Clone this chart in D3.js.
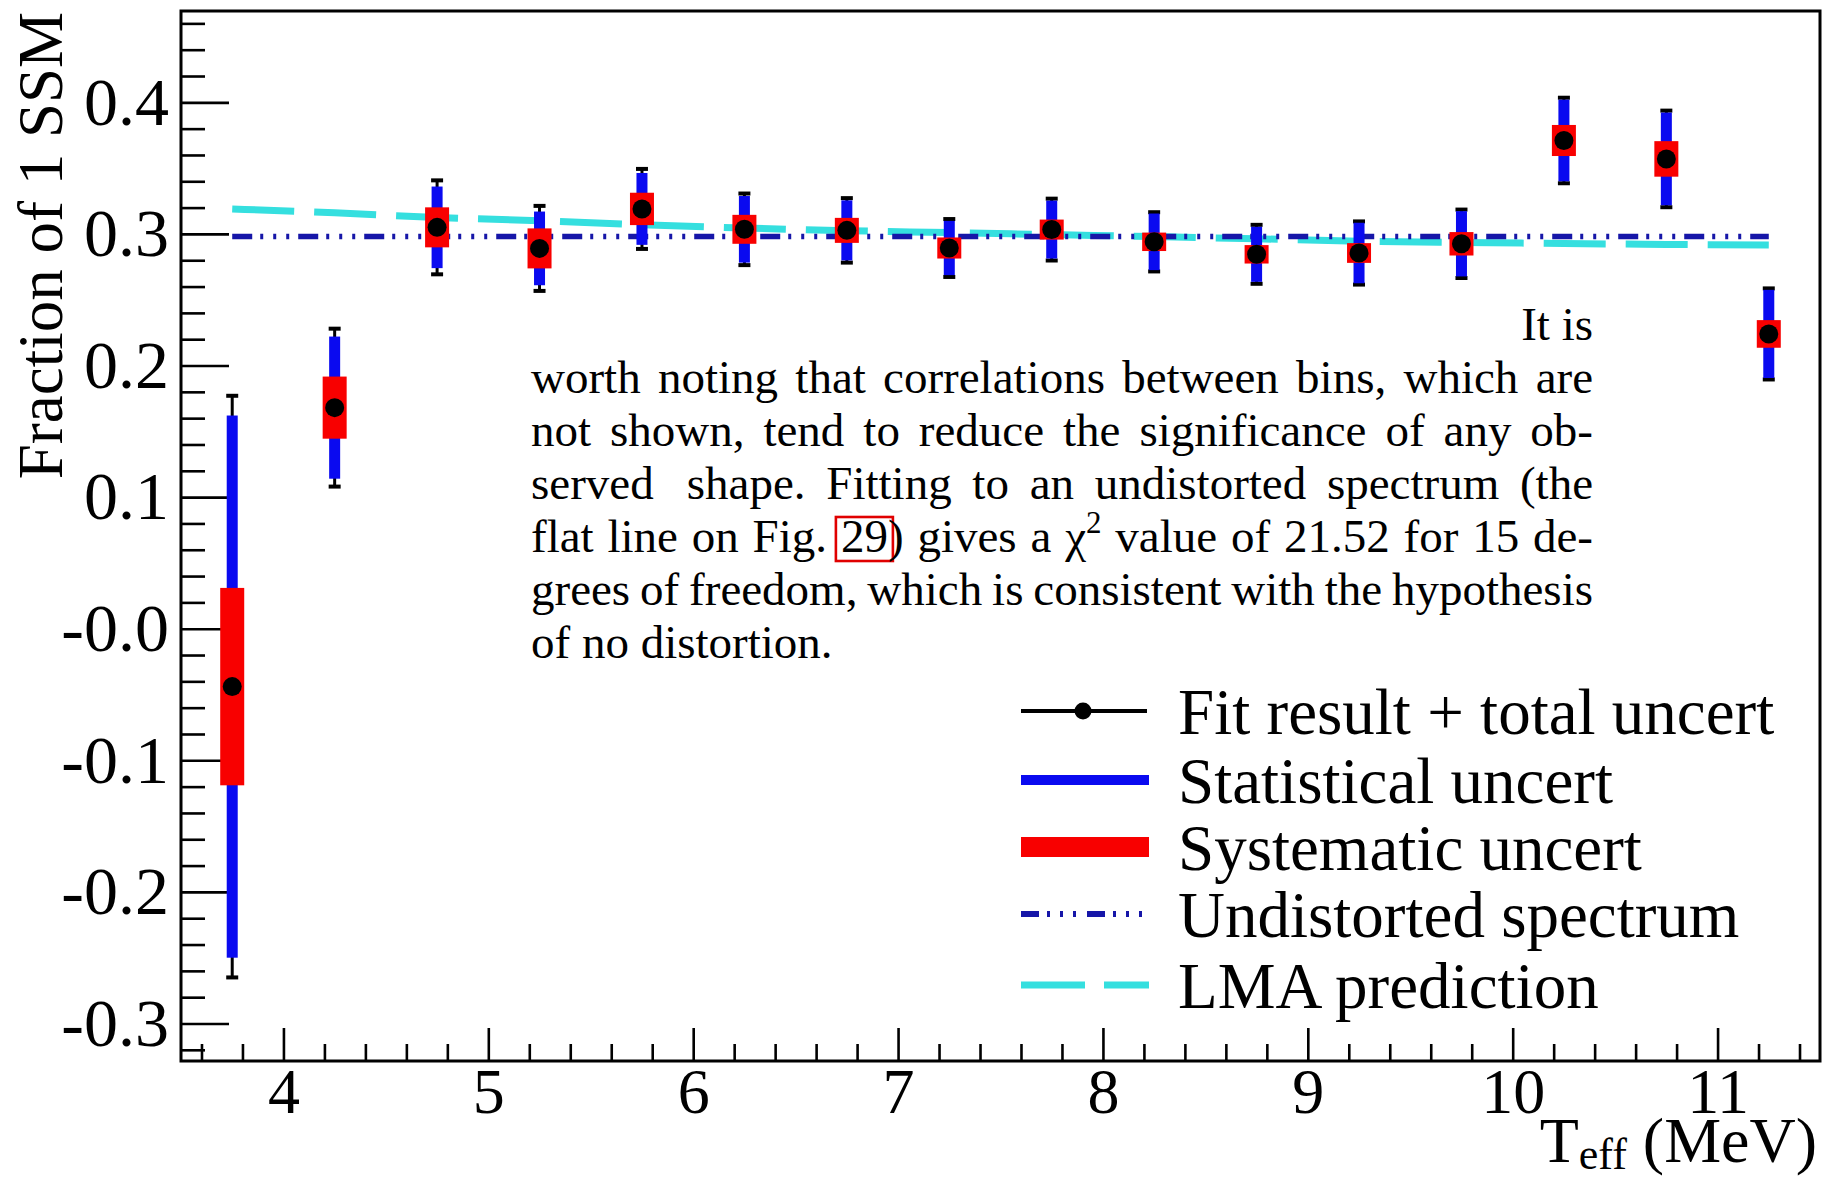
<!DOCTYPE html>
<html>
<head>
<meta charset="utf-8">
<script src="https://cdn.jsdelivr.net/npm/d3@7"></script>
<style>
  body { margin: 0; background: #fff; }
  svg text { font-family: "Liberation Serif", "Times New Roman", serif; fill: #000; }
</style>
</head>
<body>
<svg id="chart" width="1835" height="1181"></svg>
<script>
// ---- data: fitted fraction of SSM per 0.5 MeV energy bin ----
const binCenters = [3.75, 4.25, 4.75, 5.25, 5.75, 6.25, 6.75, 7.25, 7.75, 8.25, 8.75, 9.25, 9.75, 10.25, 10.75, 11.25];
const fitValues  = [-0.044, 0.168, 0.305, 0.289, 0.319, 0.3035, 0.3027, 0.2893, 0.3033, 0.294, 0.2845, 0.2855, 0.2925, 0.371, 0.357, 0.224];
const statErr    = [0.206, 0.054, 0.031, 0.028, 0.0273, 0.0253, 0.0228, 0.0206, 0.022, 0.0215, 0.0209, 0.023, 0.0248, 0.031, 0.0352, 0.0335];
const sysErr     = [0.075, 0.0236, 0.0152, 0.0152, 0.0123, 0.011, 0.0095, 0.008, 0.0076, 0.007, 0.007, 0.0075, 0.0089, 0.0118, 0.0135, 0.0105];
const totalErr   = [0.221, 0.060, 0.0357, 0.0323, 0.0304, 0.0272, 0.0245, 0.022, 0.0235, 0.0225, 0.0224, 0.024, 0.026, 0.0325, 0.0367, 0.0346];
const lmaValues  = [0.319, 0.316, 0.3125, 0.310, 0.307, 0.3045, 0.3025, 0.301, 0.2995, 0.298, 0.2963, 0.2945, 0.2935, 0.2927, 0.292, 0.2915];
const undistortedValue = 0.298;

// axis ticks and labels
const xTickValues = [4, 5, 6, 7, 8, 9, 10, 11];
const xTickLabels = ["4", "5", "6", "7", "8", "9", "10", "11"];
const yTickValues = [0.4, 0.3, 0.2, 0.1, 0, -0.1, -0.2, -0.3];
const yTickLabels = ["0.4", "0.3", "0.2", "0.1", "-0.0", "-0.1", "-0.2", "-0.3"];
const xDomain = [3.5, 11.5];
const yDomain = [-0.3285, 0.4694];

const legendLabels = ["Fit result + total uncert", "Statistical uncert", "Systematic uncert", "Undistorted spectrum", "LMA prediction"];

// paragraph printed across the plot area
const noteLines = [
  "It is",
  "worth noting that correlations between bins, which are",
  "not shown, tend to reduce the significance of any ob-",
  "served shape.  Fitting to an undistorted spectrum (the",
  "flat line on Fig. [29]) gives a χ^2 value of 21.52 for 15 de-",
  "grees of freedom, which is consistent with the hypothesis",
  "of no distortion."
];
const noteAlign = ["right", "justify", "justify", "justify", "justify", "justify", "left"];

// ---- layout ----
const SERIF = "'Liberation Serif', 'Times New Roman', serif";
const frame = { left: 181, right: 1820, top: 11, bottom: 1061 };
const COL = { stat: "#0a0af0", sys: "#f80000", lma: "#35dfdf", flat: "#1616a8" };

const svg = d3.select("#chart");
svg.append("rect").attr("width", 1835).attr("height", 1181).attr("fill", "#fff");

const x = d3.scaleLinear().domain(xDomain).range([frame.left, frame.right]);
const y = d3.scaleLinear().domain(yDomain).range([frame.bottom, frame.top]);

// ---- axes (ticks pointing into the frame) ----
const xMinor = d3.range(3.6, 11.45, 0.2).filter(v => Math.abs(v - Math.round(v)) > 0.01);
const yMinor = d3.range(-0.32, 0.465, 0.02).filter(v => Math.abs(v * 10 - Math.round(v * 10)) > 0.01);

const xAxisG = svg.append("g").attr("transform", `translate(0,${frame.bottom})`);
xAxisG.append("g").call(d3.axisBottom(x).tickValues(xMinor).tickSize(-17).tickFormat(""));
xAxisG.append("g").attr("class", "xmaj").call(d3.axisBottom(x).tickValues(xTickValues).tickSize(-33).tickPadding(7)
  .tickFormat((d, i) => xTickLabels[i]));

const yAxisG = svg.append("g").attr("transform", `translate(${frame.left},0)`);
yAxisG.append("g").call(d3.axisLeft(y).tickValues(yMinor).tickSize(-24).tickFormat(""));
yAxisG.append("g").attr("class", "ymaj").call(d3.axisLeft(y).tickValues(yTickValues).tickSize(-48).tickPadding(12)
  .tickFormat((d, i) => yTickLabels[i]));

svg.selectAll(".domain").remove();
svg.selectAll(".tick line").attr("stroke", "#000").attr("stroke-width", 2.6);
svg.selectAll(".tick text").style("font-family", SERIF).attr("fill", "#000");
svg.selectAll(".xmaj .tick text").style("font-size", "64px");
svg.selectAll(".ymaj .tick text").style("font-size", "68px");

// frame
svg.append("rect")
  .attr("x", frame.left).attr("y", frame.top)
  .attr("width", frame.right - frame.left).attr("height", frame.bottom - frame.top)
  .attr("fill", "none").attr("stroke", "#000").attr("stroke-width", 3);

// axis titles
svg.append("text")
  .attr("transform", `translate(62,${frame.top + 1}) rotate(-90)`)
  .attr("text-anchor", "end")
  .style("font-family", SERIF)
  .style("font-size", "63px")
  .text("Fraction of 1 SSM");

const xt = svg.append("text")
  .attr("x", frame.right - 3).attr("y", 1162)
  .attr("text-anchor", "end")
  .style("font-family", SERIF)
  .style("font-size", "64px");
xt.append("tspan").text("T");
xt.append("tspan").style("font-size", "44px").attr("dy", 7).text("eff");
xt.append("tspan").attr("dy", -7).text(" (MeV)");

// ---- model curves ----
const pts = binCenters.map((e, i) => ({ e, v: fitValues[i], st: statErr[i], sy: sysErr[i], tot: totalErr[i], lma: lmaValues[i] }));

svg.append("path")
  .datum(pts)
  .attr("fill", "none").attr("stroke", COL.lma).attr("stroke-width", 7)
  .attr("stroke-dasharray", "62 20")
  .attr("d", d3.line().x(d => x(d.e)).y(d => y(d.lma)).curve(d3.curveMonotoneX));

svg.append("path")
  .datum([binCenters[0], binCenters[binCenters.length - 1]])
  .attr("fill", "none").attr("stroke", COL.flat).attr("stroke-width", 5.5)
  .attr("stroke-dasharray", "20 8 3 10 3 10 3 9")
  .attr("d", d3.line().x(d => x(d)).y(() => y(undistortedValue)));

// ---- data points: total (black), statistical (blue), systematic (red) ----
const pg = svg.append("g").selectAll("g").data(pts).join("g");

pg.append("line")
  .attr("x1", d => x(d.e)).attr("x2", d => x(d.e))
  .attr("y1", d => y(d.v + d.tot)).attr("y2", d => y(d.v - d.tot))
  .attr("stroke", "#000").attr("stroke-width", 3);
[1, -1].forEach(s => {
  pg.append("line")
    .attr("x1", d => x(d.e) - 6).attr("x2", d => x(d.e) + 6)
    .attr("y1", d => y(d.v + s * d.tot)).attr("y2", d => y(d.v + s * d.tot))
    .attr("stroke", "#000").attr("stroke-width", 4);
});
pg.append("rect")
  .attr("x", d => x(d.e) - 5.5).attr("width", 11)
  .attr("y", d => y(d.v + d.st)).attr("height", d => y(d.v - d.st) - y(d.v + d.st))
  .attr("fill", COL.stat);
pg.append("rect")
  .attr("x", d => x(d.e) - 12).attr("width", 24)
  .attr("y", d => y(d.v + d.sy)).attr("height", d => y(d.v - d.sy) - y(d.v + d.sy))
  .attr("fill", COL.sys);
pg.append("circle")
  .attr("cx", d => x(d.e)).attr("cy", d => y(d.v)).attr("r", 9.5)
  .attr("fill", "#000");

// ---- legend ----
const lg = svg.append("g");
const legX0 = 1021, legX1 = 1149, legText = 1178;
const legRows = [711, 780, 847, 914, 985];
legendLabels.forEach((t, i) => {
  lg.append("text").attr("x", legText).attr("y", legRows[i] + 23)
    .style("font-family", SERIF).style("font-size", "65px").text(t);
});
lg.append("line").attr("x1", legX0).attr("x2", legX1 - 2).attr("y1", legRows[0]).attr("y2", legRows[0])
  .attr("stroke", "#000").attr("stroke-width", 4);
lg.append("circle").attr("cx", (legX0 + legX1) / 2 - 2).attr("cy", legRows[0]).attr("r", 8.5).attr("fill", "#000");
lg.append("line").attr("x1", legX0).attr("x2", legX1).attr("y1", legRows[1]).attr("y2", legRows[1])
  .attr("stroke", COL.stat).attr("stroke-width", 10);
lg.append("line").attr("x1", legX0).attr("x2", legX1).attr("y1", legRows[2]).attr("y2", legRows[2])
  .attr("stroke", COL.sys).attr("stroke-width", 20);
lg.append("line").attr("x1", legX0).attr("x2", legX1 - 7).attr("y1", legRows[3]).attr("y2", legRows[3])
  .attr("stroke", COL.flat).attr("stroke-width", 6).attr("stroke-dasharray", "18 8 3 10 3 10 3 11");
lg.append("line").attr("x1", legX0).attr("x2", legX1).attr("y1", legRows[4]).attr("y2", legRows[4])
  .attr("stroke", COL.lma).attr("stroke-width", 7).attr("stroke-dasharray", "64 19");

// ---- paragraph with justified lines ----
const note = { left: 531, right: 1593, base: 340, lead: 53, size: 47 };
const ng = svg.append("g");

function parseWord(w) {
  const segs = [];
  const m = w.match(/^\[(.+)\](.*)$/);
  if (m) { segs.push({ t: m[1], box: true }); if (m[2]) segs.push({ t: m[2] }); return segs; }
  const s = w.split("^");
  segs.push({ t: s[0] });
  if (s.length > 1) segs.push({ t: s[1], sup: true });
  return segs;
}

function drawWord(segs) {
  const g = ng.append("g");
  let cx = 0;
  segs.forEach(s => {
    const t = g.append("text").attr("x", cx).attr("y", s.sup ? -19 : 0)
      .style("font-family", SERIF)
      .style("font-size", (s.sup ? 31 : note.size) + "px").text(s.t);
    const w = t.node().getComputedTextLength();
    if (s.box) {
      g.append("rect").attr("x", cx - 5).attr("y", -35).attr("width", w + 10).attr("height", 44)
        .attr("fill", "none").attr("stroke", "#e00000").attr("stroke-width", 2.6);
    }
    cx += w;
  });
  return { g, w: cx };
}

noteLines.forEach((line, li) => {
  const baseY = note.base + li * note.lead;
  // a double space marks an end-of-sentence gap, which gets a wider share
  const parts = line.split(" ");
  const words = [];
  const gapWeights = [];
  parts.forEach(p => {
    if (p === "") { if (gapWeights.length) gapWeights[gapWeights.length - 1] = 1.6; return; }
    if (words.length) gapWeights.push(1);
    words.push(drawWord(parseWord(p)));
  });
  const total = d3.sum(words, d => d.w);
  const space = note.size * 0.25;
  let gapUnit = space;
  let xStart = note.left;
  const wsum = d3.sum(gapWeights);
  if (noteAlign[li] === "justify" && wsum > 0) {
    gapUnit = (note.right - note.left - total) / wsum;
  } else if (noteAlign[li] === "right") {
    xStart = note.right - total - space * wsum;
  }
  let cx = xStart;
  words.forEach((wd, i) => {
    wd.g.attr("transform", `translate(${cx},${baseY})`);
    cx += wd.w + (i < gapWeights.length ? gapUnit * gapWeights[i] : 0);
  });
});
</script>
</body>
</html>
